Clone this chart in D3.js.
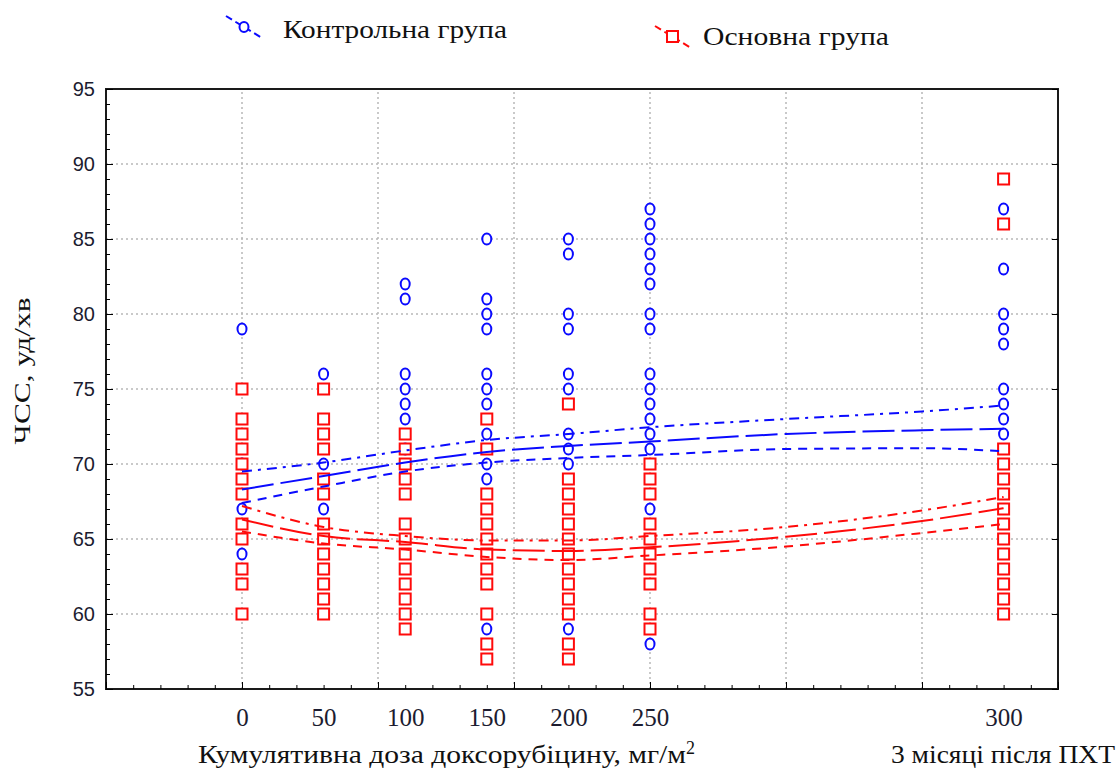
<!DOCTYPE html>
<html>
<head>
<meta charset="utf-8">
<script src="https://cdn.jsdelivr.net/npm/d3@7"></script>
<style>
  body { margin: 0; background: #fff; }
  svg { display: block; }
</style>
</head>
<body>
<div id="chart"></div>
<script>
// Dose categories and where each sits on the underlying x axis
const doseLabels = ["0", "50", "100", "150", "200", "250", "300"];
const dosePos = [0, 0.6, 1.2, 1.8, 2.4, 3.0, 5.6];

// Heart rate values per dose column
const controlValues = [
    [79, 70, 67, 64],
    [76, 70, 67],
    [82, 81, 76, 75, 74, 73, 71],
    [85, 81, 80, 79, 76, 75, 74, 72, 70, 69, 59],
    [85, 84, 80, 79, 76, 75, 72, 71, 70, 59],
    [87, 86, 85, 84, 83, 82, 80, 79, 76, 75, 74, 73, 72, 71, 67, 58],
    [87, 83, 80, 79, 78, 75, 74, 73, 72]
];
const mainValues = [
    [75, 73, 72, 71, 70, 69, 68, 66, 65, 63, 62, 60],
    [75, 73, 72, 71, 69, 68, 66, 65, 64, 63, 62, 61, 60],
    [72, 71, 70, 69, 68, 66, 65, 64, 63, 62, 61, 60, 59],
    [73, 71, 68, 67, 66, 65, 64, 63, 62, 60, 58, 57],
    [74, 69, 68, 67, 66, 65, 64, 63, 62, 61, 60, 58, 57],
    [70, 69, 68, 66, 65, 64, 63, 62, 60, 59],
    [89, 86, 71, 70, 69, 68, 67, 66, 65, 64, 63, 62, 61, 60]
];

// Fitted curves and confidence bands, read at these x positions
const fitX = [0, 0.6, 1.2, 1.8, 2.4, 3.0, 4.0, 5.0, 5.6];
const controlFit   = [68.3, 69.2, 70.1, 70.8, 71.2, 71.5, 72.0, 72.25, 72.35];
const controlUpper = [69.5, 70.1, 70.9, 71.6, 72.0, 72.45, 73.0, 73.5, 73.9];
const controlLower = [67.4, 68.5, 69.5, 70.1, 70.4, 70.6, 71.0, 71.05, 70.85];
const mainFit   = [66.3, 65.2, 64.8, 64.3, 64.2, 64.45, 65.15, 66.2, 67.05];
const mainUpper = [67.2, 65.8, 65.2, 64.9, 64.9, 65.2, 65.8, 66.9, 67.8];
const mainLower = [65.5, 64.7, 64.3, 63.8, 63.6, 63.9, 64.5, 65.4, 66.0];

const yTicks = [55, 60, 65, 70, 75, 80, 85, 90, 95];

const width = 1120, height = 769;
const blue = "#0a0aff", red = "#ff0a0a";
const serif = "'Liberation Serif', 'Times New Roman', serif";
const sans = "'Liberation Sans', Arial, sans-serif";

const svg = d3.select("#chart").append("svg")
    .attr("width", width)
    .attr("height", height);

const x = d3.scaleLinear().domain([-1, 6]).range([106, 1058]);
const y = d3.scaleLinear().domain([55, 95]).range([689, 89]);

// Grid lines
const grid = svg.append("g")
    .attr("stroke", "#b8b8b8")
    .attr("stroke-width", 1.5)
    .attr("stroke-dasharray", "2,3");

grid.selectAll("line.h")
    .data(yTicks.filter(d => d > 55 && d < 95))
    .enter().append("line")
    .attr("class", "h")
    .attr("x1", x(-1)).attr("x2", x(6))
    .attr("y1", d => y(d)).attr("y2", d => y(d));

grid.selectAll("line.v")
    .data(d3.range(0, 6))
    .enter().append("line")
    .attr("class", "v")
    .attr("y1", y(55)).attr("y2", y(95))
    .attr("x1", d => x(d)).attr("x2", d => x(d));

// Markers: control group (circles) first, then main group (squares)
const controlPts = controlValues.flatMap((vals, i) => vals.map(v => ({ x: dosePos[i], v })));
const mainPts = mainValues.flatMap((vals, i) => vals.map(v => ({ x: dosePos[i], v })));

svg.append("g").selectAll("ellipse")
    .data(controlPts)
    .enter().append("ellipse")
    .attr("cx", d => x(d.x))
    .attr("cy", d => y(d.v))
    .attr("rx", 4.5)
    .attr("ry", 5.5)
    .attr("fill", "#fff")
    .attr("stroke", blue)
    .attr("stroke-width", 2);

svg.append("g").selectAll("rect")
    .data(mainPts)
    .enter().append("rect")
    .attr("x", d => x(d.x) - 5.5)
    .attr("y", d => y(d.v) - 5.5)
    .attr("width", 11)
    .attr("height", 11)
    .attr("fill", "#fff")
    .attr("stroke", red)
    .attr("stroke-width", 2);

// Fitted curves and bands
const line = d3.line()
    .x((d, i) => x(fitX[i]))
    .y(d => y(d))
    .curve(d3.curveMonotoneX);

const curves = [
    { data: controlUpper, color: blue, dash: "10,6,3,6" },
    { data: controlFit,   color: blue, dash: "32,7" },
    { data: controlLower, color: blue, dash: "9,7" },
    { data: mainUpper,    color: red,  dash: "10,6,3,6" },
    { data: mainFit,      color: red,  dash: "32,7" },
    { data: mainLower,    color: red,  dash: "9,7" }
];

svg.append("g").selectAll("path")
    .data(curves)
    .enter().append("path")
    .attr("d", d => line(d.data))
    .attr("fill", "none")
    .attr("stroke", d => d.color)
    .attr("stroke-width", 2)
    .attr("stroke-dasharray", d => d.dash);

// Frame
svg.append("rect")
    .attr("x", x(-1)).attr("y", y(95))
    .attr("width", x(6) - x(-1))
    .attr("height", y(55) - y(95))
    .attr("fill", "none")
    .attr("stroke", "#1a1a1a")
    .attr("stroke-width", 2);

// Left axis: minor + major ticks inside, labels outside
svg.append("g")
    .attr("transform", `translate(${x(-1)},0)`)
    .call(d3.axisLeft(y).tickValues(d3.range(55, 96)).tickSize(-4).tickFormat(""))
    .call(g => g.select(".domain").remove());

svg.append("g")
    .attr("transform", `translate(${x(-1)},0)`)
    .call(d3.axisLeft(y).tickValues(yTicks).tickSize(-7).tickPadding(11))
    .call(g => g.select(".domain").remove())
    .call(g => g.selectAll("text")
        .attr("font-family", sans)
        .attr("font-size", 20)
        .attr("fill", "#1c1c30"));

// Right axis ticks
svg.append("g")
    .attr("transform", `translate(${x(6)},0)`)
    .call(d3.axisRight(y).tickValues(yTicks).tickSize(-6).tickFormat(""))
    .call(g => g.select(".domain").remove());

// Bottom axis: minor + major ticks inside
svg.append("g")
    .attr("transform", `translate(0,${y(55)})`)
    .call(d3.axisBottom(x).tickValues(d3.range(-1, 6.01, 0.2)).tickSize(-4).tickFormat(""))
    .call(g => g.select(".domain").remove());

svg.append("g")
    .attr("transform", `translate(0,${y(55)})`)
    .call(d3.axisBottom(x).tickValues(d3.range(-1, 7)).tickSize(-7).tickFormat(""))
    .call(g => g.select(".domain").remove());

// Dose labels under their columns
svg.append("g")
    .attr("transform", `translate(0,${y(55)})`)
    .call(d3.axisBottom(x).tickValues(dosePos).tickSize(0).tickPadding(19)
        .tickFormat((d, i) => doseLabels[i]))
    .call(g => g.select(".domain").remove())
    .call(g => g.selectAll("text")
        .attr("font-family", serif)
        .attr("font-size", 25)
        .attr("fill", "#1c1c30"));

// Axis titles
const xTitle = svg.append("text")
    .attr("x", 198).attr("y", 763)
    .attr("font-family", serif)
    .attr("font-size", 26)
    .attr("fill", "#111");
xTitle.append("tspan")
    .attr("textLength", 488)
    .attr("lengthAdjust", "spacingAndGlyphs")
    .text("Кумулятивна доза доксорубіцину, мг/м");
xTitle.append("tspan")
    .attr("dy", -9)
    .attr("font-size", 18)
    .text("2");

svg.append("text")
    .attr("x", 891).attr("y", 763)
    .attr("font-family", serif)
    .attr("font-size", 26)
    .attr("fill", "#111")
    .attr("textLength", 224)
    .attr("lengthAdjust", "spacingAndGlyphs")
    .text("3 місяці після ПХТ");

svg.append("text")
    .attr("transform", "translate(30,371) rotate(-90)")
    .attr("text-anchor", "middle")
    .attr("font-family", serif)
    .attr("font-size", 24)
    .attr("fill", "#111")
    .attr("textLength", 147)
    .attr("lengthAdjust", "spacingAndGlyphs")
    .text("ЧСС, уд/хв");

// Legend
const legendItems = [
    { label: "Контрольна група", color: blue, shape: "circle", x0: 226, y0: 16, tx: 283, ty: 38, len: 224 },
    { label: "Основна група", color: red, shape: "square", x0: 655, y0: 26, tx: 703, ty: 45, len: 186 }
];

const legend = svg.append("g");
legendItems.forEach(item => {
    const g = legend.append("g");
    g.append("line")
        .attr("x1", item.x0).attr("y1", item.y0)
        .attr("x2", item.x0 + 36).attr("y2", item.y0 + 22)
        .attr("stroke", item.color)
        .attr("stroke-width", 2)
        .attr("stroke-dasharray", "7,4");
    if (item.shape === "circle") {
        g.append("ellipse")
            .attr("cx", item.x0 + 18).attr("cy", item.y0 + 11)
            .attr("rx", 4.5).attr("ry", 5)
            .attr("fill", "#fff")
            .attr("stroke", item.color)
            .attr("stroke-width", 2);
    } else {
        g.append("rect")
            .attr("x", item.x0 + 12).attr("y", item.y0 + 5)
            .attr("width", 11).attr("height", 11)
            .attr("fill", "#fff")
            .attr("stroke", item.color)
            .attr("stroke-width", 2);
    }
    g.append("text")
        .attr("x", item.tx).attr("y", item.ty)
        .attr("font-family", serif)
        .attr("font-size", 26)
        .attr("fill", "#111")
        .attr("textLength", item.len)
        .attr("lengthAdjust", "spacingAndGlyphs")
        .text(item.label);
});
</script>
</body>
</html>
